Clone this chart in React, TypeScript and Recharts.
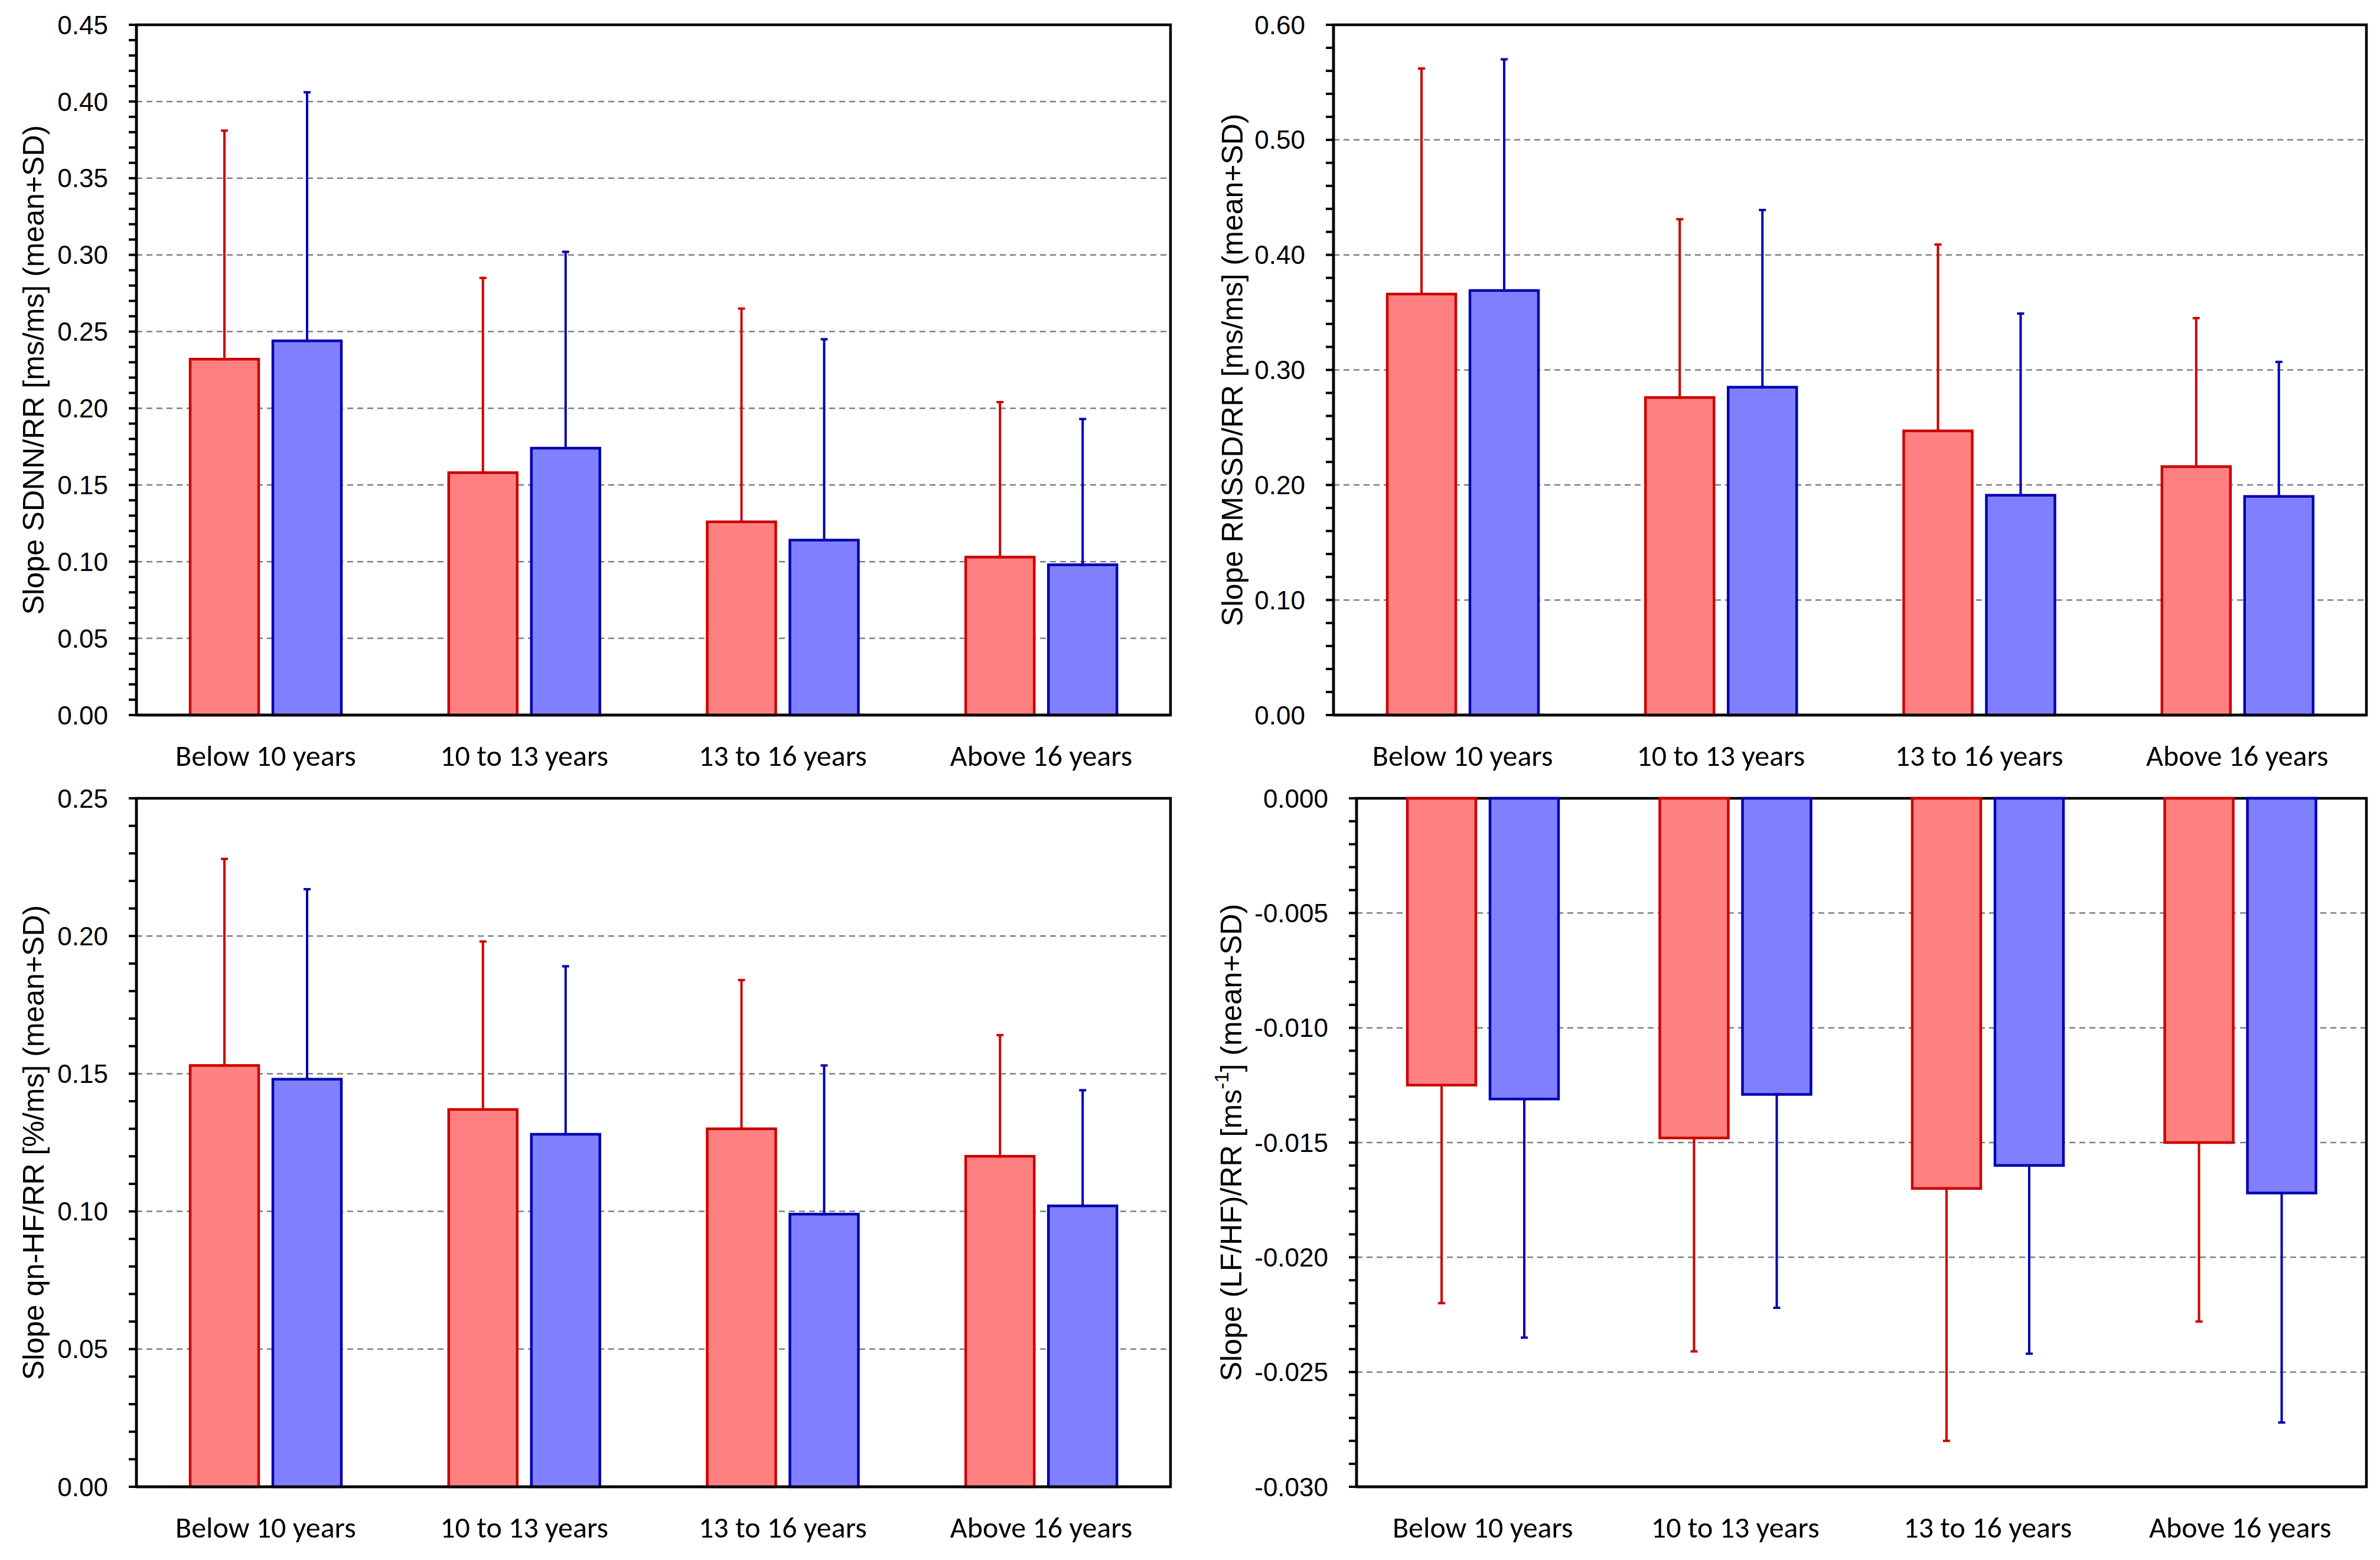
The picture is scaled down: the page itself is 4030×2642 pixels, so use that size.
import React from "react";
import {
  Bar,
  BarChart,
  CartesianGrid,
  ErrorBar,
  ReferenceArea,
  XAxis,
  YAxis,
} from "recharts";

const categories = ["Below 10 years", "10 to 13 years", "13 to 16 years", "Above 16 years"];

// Slope SDNN/RR
const sdnnRed = [0.232, 0.158, 0.126, 0.103];
const sdnnRedSd = [0.149, 0.127, 0.139, 0.101];
const sdnnBlue = [0.244, 0.174, 0.114, 0.098];
const sdnnBlueSd = [0.162, 0.128, 0.131, 0.095];
const sdnnTicks = [0, 0.05, 0.1, 0.15, 0.2, 0.25, 0.3, 0.35, 0.4, 0.45];

// Slope RMSSD/RR
const rmssdRed = [0.366, 0.276, 0.247, 0.216];
const rmssdRedSd = [0.196, 0.155, 0.162, 0.129];
const rmssdBlue = [0.369, 0.285, 0.191, 0.19];
const rmssdBlueSd = [0.201, 0.154, 0.158, 0.117];
const rmssdTicks = [0, 0.1, 0.2, 0.3, 0.4, 0.5, 0.6];

// Slope qn-HF/RR
const hfRed = [0.153, 0.137, 0.13, 0.12];
const hfRedSd = [0.075, 0.061, 0.054, 0.044];
const hfBlue = [0.148, 0.128, 0.099, 0.102];
const hfBlueSd = [0.069, 0.061, 0.054, 0.042];
const hfTicks = [0, 0.05, 0.1, 0.15, 0.2, 0.25];

// Slope (LF/HF)/RR
const lfhfRed = [-0.0125, -0.0148, -0.017, -0.015];
const lfhfRedSd = [0.0095, 0.0093, 0.011, 0.0078];
const lfhfBlue = [-0.0131, -0.0129, -0.016, -0.0172];
const lfhfBlueSd = [0.0104, 0.0093, 0.0082, 0.01];
const lfhfTicks = [-0.03, -0.025, -0.02, -0.015, -0.01, -0.005, 0];

const RED_FILL = "#ff8080";
const RED_LINE = "#cc0000";
const BLUE_FILL = "#8080ff";
const BLUE_LINE = "#0000b0";
const NUM_FONT = "'Liberation Sans', Arial, sans-serif";
const CAT_FONT = "Carlito, Lato, sans-serif";

const buildRows = (red: number[], redSd: number[], blue: number[], blueSd: number[]) =>
  categories.map((name, i) => ({
    name,
    red: red[i],
    blue: blue[i],
    redErr: red[i] >= 0 ? [0, redSd[i]] : [redSd[i], 0],
    blueErr: blue[i] >= 0 ? [0, blueSd[i]] : [blueSd[i], 0],
  }));

// 4 minor ticks between every pair of labelled ticks
const withMinor = (major: number[], parts: number) => {
  const out: number[] = [];
  for (let i = 0; i < major.length - 1; i++) {
    const step = (major[i + 1] - major[i]) / parts;
    for (let k = 0; k < parts; k++) out.push(+(major[i] + step * k).toFixed(6));
  }
  out.push(major[major.length - 1]);
  return out;
};

const YTitle = (props: any) => {
  const { viewBox, cx, body } = props;
  const cy = viewBox ? viewBox.y + viewBox.height / 2 : 600;
  return (
    <text
      x={cx}
      y={cy}
      transform={`rotate(-90 ${cx} ${cy})`}
      textAnchor="middle"
      dominantBaseline="central"
      fontFamily={NUM_FONT}
      fontSize={50}
      fill="#000"
    >
      {body}
    </text>
  );
};

type PanelProps = {
  rows: any[];
  major: number[];
  decimals: number;
  title: React.ReactNode;
  left: number;
  top: number;
  width: number;
  height: number;
  margin: { top: number; right: number; left: number; bottom: number };
  yWidth: number;
  xHeight: number;
  titleX: number;
};

const Panel = ({ rows, major, decimals, title, left, top, width, height, margin, yWidth, xHeight, titleX }: PanelProps) => {
  const domain = [major[0], major[major.length - 1]];
  const allTicks = withMinor(major, 5);
  const grid = major.slice(1, -1);
  return (
    <div style={{ position: "absolute", left, top }}>
      <BarChart width={width} height={height} data={rows} margin={margin} barGap={24}>
        <CartesianGrid
          vertical={false}
          horizontalValues={grid}
          stroke="#808080"
          strokeWidth={2.5}
          strokeDasharray="10 7"
        />
        <XAxis
          dataKey="name"
          interval={0}
          tickLine={false}
          tickSize={0}
          tickMargin={50}
          height={xHeight}
          axisLine={{ stroke: "#000", strokeWidth: 4.5 }}
          tick={{ fill: "#000", fontSize: 50, fontFamily: CAT_FONT }}
        />
        <YAxis
          type="number"
          domain={domain}
          ticks={allTicks}
          interval={0}
          width={yWidth}
          tickSize={13}
          tickMargin={35}
          tickLine={{ stroke: "#000", strokeWidth: 4 }}
          axisLine={{ stroke: "#000", strokeWidth: 4.5 }}
          tick={{ fill: "#000", fontSize: 44, fontFamily: NUM_FONT }}
          tickFormatter={(v: number) =>
            major.some((m) => Math.abs(m - v) < 1e-9) ? v.toFixed(decimals) : ""
          }
          label={<YTitle cx={titleX} body={title} />}
        />
        <Bar dataKey="red" fill={RED_FILL} stroke={RED_LINE} strokeWidth={4.5} barSize={116} isAnimationActive={false}>
          <ErrorBar dataKey="redErr" direction="y" width={6} stroke={RED_LINE} strokeWidth={4} />
        </Bar>
        <Bar dataKey="blue" fill={BLUE_FILL} stroke={BLUE_LINE} strokeWidth={4.5} barSize={116} isAnimationActive={false}>
          <ErrorBar dataKey="blueErr" direction="y" width={6} stroke={BLUE_LINE} strokeWidth={4} />
        </Bar>
        <ReferenceArea
          y1={domain[0]}
          y2={domain[1]}
          fill="none"
          stroke="#000"
          strokeWidth={4.5}
          ifOverflow="visible"
        />
      </BarChart>
    </div>
  );
};

export default function App() {
  return (
    <div style={{ position: "absolute", left: 0, top: 0, width: 4030, height: 2642, background: "#fff" }}>
      <Panel
        rows={buildRows(sdnnRed, sdnnRedSd, sdnnBlue, sdnnBlueSd)}
        major={sdnnTicks}
        decimals={2}
        title="Slope SDNN/RR [ms/ms] (mean+SD)"
        left={0}
        top={0}
        width={2000}
        height={1330}
        margin={{ top: 42, right: 18, left: 0, bottom: 0 }}
        yWidth={231}
        xHeight={119}
        titleX={57}
      />
      <Panel
        rows={buildRows(rmssdRed, rmssdRedSd, rmssdBlue, rmssdBlueSd)}
        major={rmssdTicks}
        decimals={2}
        title="Slope RMSSD/RR [ms/ms] (mean+SD)"
        left={2020}
        top={0}
        width={2010}
        height={1330}
        margin={{ top: 42, right: 23, left: 0, bottom: 0 }}
        yWidth={238}
        xHeight={119}
        titleX={67}
      />
      <Panel
        rows={buildRows(hfRed, hfRedSd, hfBlue, hfBlueSd)}
        major={hfTicks}
        decimals={2}
        title="Slope qn-HF/RR [%/ms] (mean+SD)"
        left={0}
        top={1300}
        width={2000}
        height={1342}
        margin={{ top: 52, right: 18, left: 0, bottom: 0 }}
        yWidth={231}
        xHeight={124}
        titleX={57}
      />
      <Panel
        rows={buildRows(lfhfRed, lfhfRedSd, lfhfBlue, lfhfBlueSd)}
        major={lfhfTicks}
        decimals={3}
        title={
          <>
            Slope (LF/HF)/RR [ms
            <tspan dy={-17} fontSize={33}>-1</tspan>
            <tspan dy={17}>] (mean+SD)</tspan>
          </>
        }
        left={2020}
        top={1300}
        width={2010}
        height={1342}
        margin={{ top: 52, right: 23, left: 0, bottom: 0 }}
        yWidth={277}
        xHeight={124}
        titleX={65}
      />
    </div>
  );
}
